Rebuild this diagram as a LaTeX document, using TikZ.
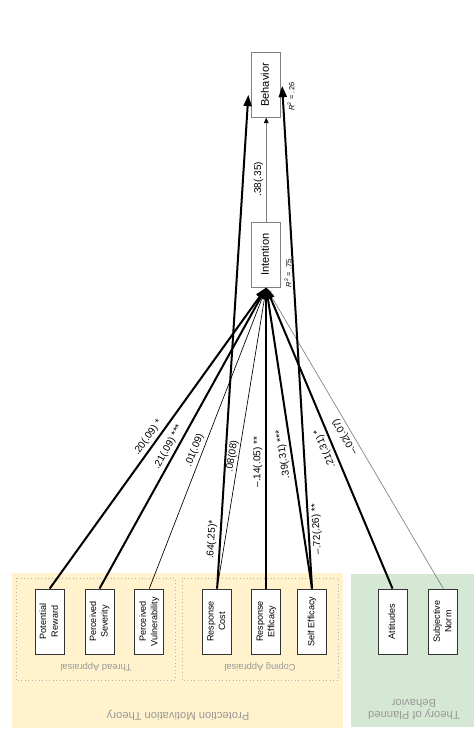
\documentclass[tikz,border=0pt]{standalone}
\usepackage{fontspec}
\setmainfont{Liberation Sans}
\usepackage{xcolor}
\definecolor{Cream}{HTML}{FFF2CC}
\definecolor{Sage}{HTML}{D5E8D4}
\definecolor{Ash}{HTML}{B3B3B3}
\definecolor{Muted}{HTML}{999999}
\definecolor{Ink}{HTML}{333333}
\definecolor{Slate}{HTML}{808080}
\usepackage{graphicx}
\usepackage{tikz}
\usetikzlibrary{arrows.meta,positioning,calc}
\newcommand{\vlab}[1]{\rotatebox{90}{\begin{tabular}{@{}c@{}}#1\end{tabular}}}

\begin{document}
\begin{tikzpicture}[x=0.75pt,y=-0.75pt,node distance=15pt,
  every node/.style={font=\fontsize{6.8}{8.7}\selectfont,inner sep=0pt},
  var/.style={draw=Ink,line width=0.6pt,fill=white,minimum width=21.75pt,minimum height=48.75pt},
  core/.style={var,draw=Slate,font=\fontsize{8.3}{10}\selectfont},
  grp/.style={draw=Ash,dotted,line width=0.6pt},
  gtext/.style={rotate=180,text=Muted,font=\fontsize{7}{9}\selectfont},
  ttext/.style={rotate=180,text=Muted,font=\fontsize{8.4}{9}\selectfont,align=center},
  rsq/.style={anchor=south west,font=\fontsize{5.6}{7}\selectfont},
  heavy/.style={line width=1.5pt,-{Triangle[length=8.5pt,width=6pt]}},
  light/.style={line width=0.5pt,-{Triangle[length=5pt,width=4pt]}},
  coef/.style={font=\fontsize{7.5}{9}\selectfont,sloped,allow upside down,inner sep=2pt}]
\useasboundingbox (0,0) rectangle (474,740);

% theory panels
\fill[Cream] (12,573) rectangle (343,728);
\fill[Sage] (351,574) rectangle (474,727);
\draw[grp] (16,578) rectangle (175,680);
\draw[grp] (182,578) rectangle (338,680);
\node[gtext] (thr) at (96,667) {Thread Appraisal};
\node[gtext] (cop) at (260,667) {Coping Appraisal};
\node[ttext] (pmt) at (178,715) {Protection Motivation Theory};
\node[ttext] (tpb) at (414,709) {Theory of Planned\\Behavior};

% predictors
\node[var] (pr) at (49.7,621.5) {\vlab{Potential\\Reward}};
\node[var,right=of pr] (ps) {\vlab{Perceived\\Severity}};
\node[var,right=of ps] (pv) {\vlab{Perceived\\Vulnerability}};
\node[var,right=28.5pt of pv] (rc) {\vlab{Response\\Cost}};
\node[var,right=14.5pt of rc] (re) {\vlab{Response\\Efficacy}};
\node[var,right=12pt of re] (se) {\vlab{Self Efficacy}};
\node[var,right=38pt of se] (att) {\vlab{Attitudes}};
\node[var,right=15.75pt of att] (sn) {\vlab{Subjective\\Norm}};

% outcomes
\node[core,above=225.75pt of re] (int) {\vlab{Intention}};
\node[core,above=78pt of int] (beh) {\vlab{Behavior}};
\node[rsq] (r2i) at ($(int.south east)+(3,0)$) {\rotatebox{90}{\textit{R}\textsuperscript{2} = .75}};
\node[rsq] (r2b) at ($(beh.south east)+(6,-7)$) {\rotatebox{90}{\textit{R}\textsuperscript{2} = .26}};
\coordinate (bl) at ($(beh.south west)+(-3,-23)$);
\coordinate (br) at ($(beh.south east)+(1,-32)$);

% paths
\draw[light] (pv.north) -- (int.south) node[coef,pos=.45,above] {.01(.09)};
\draw[light] (rc.north) -- (int.south) node[coef,pos=.436,above,inner sep=1pt] {.08(08)};
\draw[light,draw=Slate] (sn.north) -- (int.south) node[coef,pos=.517,above] {–.02(.07)};
\draw[heavy] (pr.north) -- (int.south) node[coef,pos=.485,above] {.20(.09) *};
\draw[heavy] (ps.north) -- (int.south) node[coef,pos=.456,above] {.21(.09) ***};
\draw[heavy] (re.north) -- (int.south) node[coef,pos=.42,above] {–.14(.05) **};
\draw[heavy] (se.north) -- (int.south) node[coef,pos=.45,above] {.39(.31) ***};
\draw[heavy] (att.north) -- (int.south) node[coef,pos=.476,above] {.21(.31) *};
\draw[heavy] (rc.north) -- (bl) node[coef,pos=.098,above] {.64(.25)*};
\draw[heavy] (se.north) -- (br) node[coef,pos=.117,below] {–.72(.26) **};
\draw[line width=0.6pt,draw=Slate,-{Triangle[length=4pt,width=3.5pt,color=black]}] (int.north) -- (beh.south) node[coef,pos=.41,above] {.38(.35)};
\end{tikzpicture}
\end{document}
